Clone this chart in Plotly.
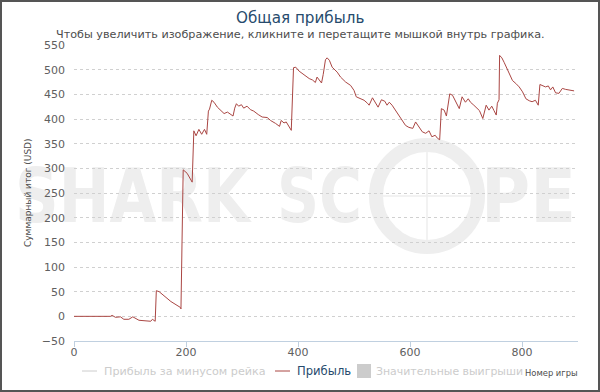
import base64
import plotly.graph_objects as go

# ---------------- data ----------------
games = [0, 21, 50, 65, 68, 74, 83, 89, 98, 105, 116, 128, 137, 140, 145, 147, 152, 173, 190, 191,
         195, 202, 210, 211, 214, 218, 223, 228, 233, 237, 240, 242, 246, 250, 256, 262, 268, 274,
         280, 284, 287, 290, 294, 299, 303, 309, 315, 321, 329,
         336, 345, 351, 360, 367, 370, 375, 379, 384, 388, 392, 396, 402, 408, 414, 420, 426, 431,
         434, 438, 442, 445, 449, 452, 456, 461, 466, 470, 476, 485, 494, 500, 504, 512, 518, 524,
         527, 533, 538, 543, 549, 555, 559, 563, 568, 574, 580, 586, 592, 598, 605, 610, 616, 622,
         628, 634, 639, 645, 649, 653,
         656, 661, 665, 671, 676, 682, 688, 693, 699, 704, 708, 714, 720, 724, 730, 736, 741, 746,
         750, 754, 756, 759, 760, 764, 768, 772, 777, 783, 789, 795, 801, 807, 813, 818, 824, 829,
         832, 836, 842, 847, 851, 855, 860, 866, 872, 878, 884, 893]
profit = [0, 0.5, 1, 0, 2, -2, -1, -6, -6, -1, -8, -10, -10, -6, -10, 52, 50, 30, 18, 15,
          297, 290, 275, 272, 376, 366, 379, 369, 379, 369, 416, 420, 438, 434, 424, 417, 411, 414,
          410, 406, 422, 431, 426, 429, 422, 426, 419, 416, 409,
          404, 403, 397, 391, 385, 397, 392, 394, 385, 377, 504, 505, 497, 492, 486, 482, 479, 474,
          485, 480, 473, 490, 520, 524, 519, 505, 500, 495, 485, 475, 468, 458, 445, 441, 438, 432,
          428, 443, 434, 424, 439, 436, 428, 434, 428, 418, 408, 398, 387, 383, 381, 394, 383, 374,
          371, 376, 364, 367, 361, 358,
          421, 418, 406, 451, 448, 434, 421, 445, 434, 441, 434, 428, 421, 417, 401, 428, 418, 426,
          417, 408, 432, 439, 529, 524, 515, 505, 495, 478, 472, 465, 455, 441, 437, 435, 438, 428,
          470, 468, 465, 467, 459, 465, 453, 452, 462, 460, 459, 457]

x_ticks = [0, 200, 400, 600, 800]
y_ticks = list(range(-50, 551, 50))

title = "Общая прибыль"
subtitle = "Чтобы увеличить изображение, кликните и перетащите мышкой внутрь графика."
legend_names = ["Прибыль за минусом рейка", "Прибыль", "Значительные выигрыши"]
y_title = "Суммарный итог (USD)"
x_title = "Номер игры"

# ---------------- layout geometry ----------------
W, H = 600, 392
L, R, T, B = 74, 578, 45, 341
PW, PH = R - L, B - T


def px(x):
    return (x - L) / PW


def py(y):
    return (B - y) / PH


LINE = "#AA4643"
FONT = "DejaVu Sans"

fig = go.Figure()
fig.add_trace(go.Scatter(x=games, y=profit, mode="lines",
                         line=dict(color=LINE, width=1), showlegend=False,
                         name=legend_names[1]))

# ---------------- watermark (svg image below data) ----------------
wm = "#eeeeee"
svg = f'''<svg xmlns="http://www.w3.org/2000/svg" width="600" height="392" viewBox="0 0 600 392" preserveAspectRatio="none">
<g fill="{wm}" font-family="DejaVu Sans, Liberation Sans" font-weight="bold" font-size="74">
<text x="15" y="222" textLength="235" lengthAdjust="spacingAndGlyphs">SHARK</text>
<text x="277" y="222" textLength="85" lengthAdjust="spacingAndGlyphs">SC</text>
<text x="481" y="222" textLength="95" lengthAdjust="spacingAndGlyphs">PE</text>
</g>
<circle cx="427" cy="196" r="51" fill="none" stroke="{wm}" stroke-width="14"/>
<line x1="427" y1="148" x2="427" y2="244" stroke="{wm}" stroke-width="1.5"/>
<line x1="379" y1="196" x2="475" y2="196" stroke="{wm}" stroke-width="1.5"/>
</svg>'''
uri = "data:image/svg+xml;base64," + base64.b64encode(svg.encode("utf-8")).decode()
images = [dict(source=uri, xref="paper", yref="paper", x=px(0), y=py(0),
               sizex=W / PW, sizey=H / PH, sizing="stretch",
               xanchor="left", yanchor="top", layer="below")]

# ---------------- annotations ----------------
ann = []
ann.append(dict(text=title, x=px(300), y=py(18), xref="paper", yref="paper",
                showarrow=False, xanchor="center", yanchor="middle",
                font=dict(family=FONT, size=15.2, color="#274b6d")))
ann.append(dict(text=subtitle, x=px(300), y=py(34), xref="paper", yref="paper",
                showarrow=False, xanchor="center", yanchor="middle",
                font=dict(family=FONT, size=11.2, color="#4d4d4d")))
ann.append(dict(text=y_title, x=px(28), y=py(193), xref="paper", yref="paper",
                showarrow=False, xanchor="center", yanchor="middle", textangle=-90,
                font=dict(family=FONT, size=9, color="#4d4d4d")))
ann.append(dict(text=x_title, x=px(580), y=py(373), xref="paper", yref="paper",
                showarrow=False, xanchor="right", yanchor="middle",
                font=dict(family=FONT, size=8.4, color="#4d4d4d")))
# legend
LY = 371
ann.append(dict(text=legend_names[0], x=px(102), y=py(LY), xref="paper", yref="paper",
                showarrow=False, xanchor="left", yanchor="middle",
                font=dict(family=FONT, size=11.2, color="#cccccc")))
ann.append(dict(text=legend_names[1], x=px(295), y=py(LY), xref="paper",
                yref="paper", showarrow=False, xanchor="left", yanchor="middle",
                font=dict(family=FONT, size=11.6, color="#274b6d")))
ann.append(dict(text=legend_names[2], x=px(374), y=py(LY), xref="paper", yref="paper",
                showarrow=False, xanchor="left", yanchor="middle",
                font=dict(family=FONT, size=10.9, color="#cccccc")))

shapes = []
shapes.append(dict(type="line", xref="paper", yref="paper", x0=px(82), x1=px(97),
                   y0=py(LY), y1=py(LY), line=dict(color="#cccccc", width=1)))
shapes.append(dict(type="line", xref="paper", yref="paper", x0=px(275), x1=px(290),
                   y0=py(LY), y1=py(LY), line=dict(color=LINE, width=1)))
shapes.append(dict(type="rect", xref="paper", yref="paper", x0=px(357), x1=px(371),
                   y0=py(LY + 7), y1=py(LY - 7), fillcolor="#cccccc", line=dict(width=0)))
# outer border
shapes.append(dict(type="rect", xref="paper", yref="paper", x0=px(1), x1=px(599),
                   y0=py(391), y1=py(1), line=dict(color="#555555", width=2),
                   fillcolor="rgba(0,0,0,0)"))

fig.update_layout(
    width=W, height=H,
    margin=dict(l=L, r=W - R, t=T, b=H - B),
    paper_bgcolor="white", plot_bgcolor="rgba(0,0,0,0)",
    font=dict(family=FONT, size=11, color="#606060"),
    annotations=ann, shapes=shapes, images=images,
    showlegend=False,
)
fig.update_xaxes(range=[0, 900], tickvals=x_ticks, showgrid=False, zeroline=False,
                 showline=True, linecolor="#C0D0E0", linewidth=1,
                 ticks="outside", ticklen=5, tickcolor="#C0D0E0", ticklabelstandoff=-4,
                 tickfont=dict(family=FONT, size=11, color="#606060"))
fig.update_yaxes(range=[-50, 550], tickvals=y_ticks, showgrid=True, gridcolor="#d0d0d0",
                 griddash="3px,3px", gridwidth=1, zeroline=False, showline=False,
                 ticks="", ticklabelstandoff=8,
                 tickfont=dict(family=FONT, size=11, color="#606060"))

fig.write_html("out.html")
